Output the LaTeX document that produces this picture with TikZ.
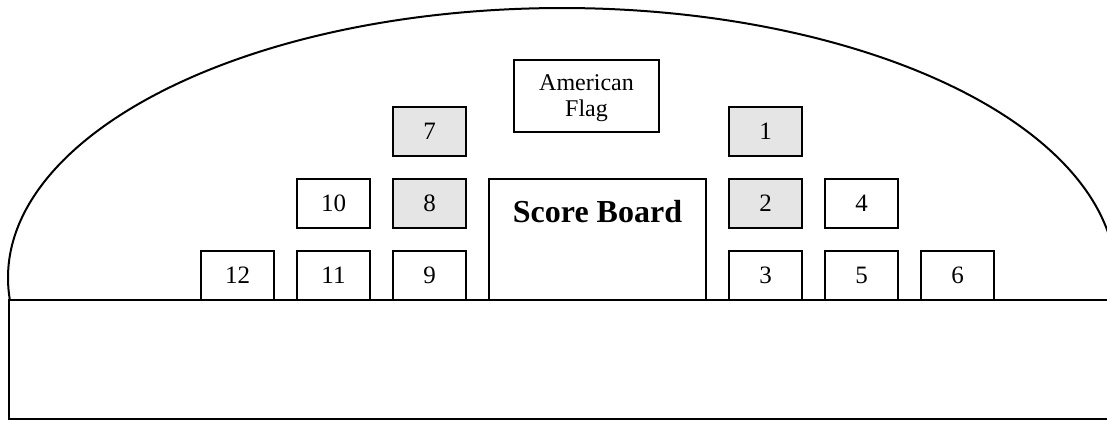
\documentclass[tikz,border=0pt]{standalone}
\usepackage{fontspec}
\setmainfont{Liberation Serif}
\usetikzlibrary{positioning}

\begin{document}
\begin{tikzpicture}[
	  x=0.5pt, y=0.5pt,
	  node distance=11.5pt,
	  seat/.style={rectangle, minimum width=36.5pt, minimum height=24.5pt, inner sep=0pt, outer sep=0pt, text centered, draw=black, line width=1.1pt, fill=white, font=\fontsize{12.5}{13}\selectfont},
	  reserved/.style={seat, fill=black!10},
	  board/.style={rectangle, minimum width=108.5pt, minimum height=60.5pt, inner sep=0pt, outer sep=0pt, draw=black, line width=1.1pt},
	  flagbox/.style={rectangle, minimum width=72.5pt, minimum height=36pt, inner sep=0pt, outer sep=0pt, align=center, text depth=0pt, draw=black, line width=1.1pt, font=\fontsize{12}{13}\selectfont},
	  outline/.style={line width=1pt}
	]

	\useasboundingbox (0,0) rectangle (1107,420);
	\clip (0,0) rectangle (1107,420);

	% dome and floor
	\draw [outline] (562,142) ++(184.674:554 and 270) arc[start angle=184.674, end angle=-4.674, x radius=554, y radius=270];
	\draw [outline] (1120,120) -- (9,120) -- (9,1.5) -- (1120,1.5);

	\node (b9) [seat, anchor=south west] at (393,120) {9};
	\node (b8) [reserved, above=of b9] {8};
	\node (b7) [reserved, above=of b8] {7};
	\node (b11) [seat, left=of b9] {11};
	\node (b10) [seat, above=of b11] {10};
	\node (b12) [seat, left=of b11] {12};
	\node (board) [board, right=of b9.south east, anchor=south west] {};
	\node (boardtext) [below=10.5pt of board.north, inner sep=0pt, font=\fontsize{16}{16}\selectfont\bfseries] {Score Board};
	\node (flag) [flagbox, above=23.5pt of board, xshift=-5.5pt] {American\\Flag};
	\node (b3) [seat, right=of board.south east, anchor=south west] {3};
	\node (b2) [reserved, above=of b3] {2};
	\node (b1) [reserved, above=of b2] {1};
	\node (b5) [seat, right=of b3] {5};
	\node (b4) [seat, above=of b5] {4};
	\node (b6) [seat, right=of b5] {6};

\end{tikzpicture}
\end{document}
